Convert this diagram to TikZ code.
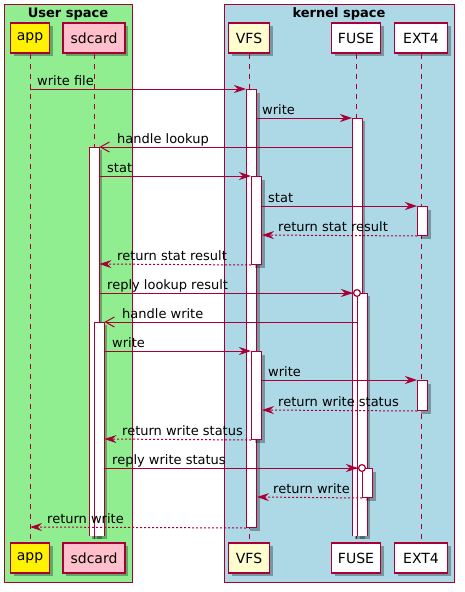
\documentclass[tikz,border=0pt]{standalone}
\usepackage{fontspec}
\setmainfont{DejaVu Sans}
\usetikzlibrary{arrows.meta,shadows}
\definecolor{pu}{HTML}{A80036}
\definecolor{grp1}{HTML}{90EE90}
\definecolor{grp2}{HTML}{ADD8E6}
\definecolor{pink1}{HTML}{FFC0CB}
\definecolor{cream}{HTML}{FEFECE}
\tikzset{
  grpbox/.style={draw=pu, line width=1pt},
  grptitle/.style={font=\fontsize{13}{15}\selectfont\bfseries, anchor=base},
  part/.style={draw=pu, line width=1.5pt, minimum height=30pt, inner sep=0pt,
    font=\fontsize{14}{16}\selectfont,
    drop shadow={shadow xshift=3pt, shadow yshift=-3pt, fill=black, opacity=0.3}},
  life/.style={draw=pu, line width=1pt, dash pattern=on 5pt off 5pt},
  act/.style={fill=white, draw=pu, line width=1pt, minimum width=10pt, inner sep=0pt, anchor=north west,
    drop shadow={shadow xshift=3pt, shadow yshift=-3pt, fill=black, opacity=0.3}},
  actopen/.style={fill=white, draw=none, minimum width=10pt, inner sep=0pt, anchor=north west,
    drop shadow={shadow xshift=3pt, shadow yshift=-3pt, fill=black, opacity=0.3}},
  msg/.style={draw=pu, line width=1pt, -{Stealth[length=12pt,width=8pt,inset=4pt]}},
  ret/.style={msg, dash pattern=on 2pt off 2pt},
  opn/.style={draw=pu, line width=1pt, -{Straight Barb[length=9pt,width=10pt]}},
  circ/.style={draw=pu, line width=1pt, shorten >=-4pt,
    -{Stealth[length=12pt,width=8pt,inset=4pt] Circle[open,fill=white,length=8pt,width=8pt,line width=1.2pt]}},
  lbl/.style={font=\fontsize{13}{15}\selectfont, anchor=base west, inner sep=0pt},
}
\begin{document}
\begin{tikzpicture}[x=1pt,y=-1pt]
\useasboundingbox (0,0) rectangle (464,592);
% group boxes
\filldraw[grpbox, fill=grp1] (4,4) rectangle (132,582);
\filldraw[grpbox, fill=grp2] (224,4) rectangle (454,582);
\node[grptitle] (gUser) at (68,17) {User space};
\node[grptitle] (gKern) at (339,17) {kernel space};
% participants
\node[part, fill=yellow, minimum width=39pt] (appT) at (30,38) {app};
\node[part, fill=pink1, minimum width=62pt] (sdT) at (94,38) {sdcard};
\node[part, fill=cream, minimum width=41pt] (vfsT) at (249,38) {VFS};
\node[part, fill=white, minimum width=49pt] (fuseT) at (356,38) {FUSE};
\node[part, fill=white, minimum width=53pt] (extT) at (421,38) {EXT4};
\node[part, fill=yellow, minimum width=39pt] (appB) at (30,558) {app};
\node[part, fill=pink1, minimum width=62pt] (sdB) at (94,558) {sdcard};
\node[part, fill=cream, minimum width=41pt] (vfsB) at (249,558) {VFS};
\node[part, fill=white, minimum width=49pt] (fuseB) at (356,558) {FUSE};
\node[part, fill=white, minimum width=53pt] (extB) at (421,558) {EXT4};
% lifelines
\draw[life] (appT.south) -- (appB.north);
\draw[life] (sdT.south) -- (sdB.north);
\draw[life] (vfsT.south) -- (vfsB.north);
\draw[life] (fuseT.south) -- (fuseB.north);
\draw[life] (extT.south) -- (extB.north);
% activations
\node[act, minimum height=438pt] (vfs1) at (246,89) {};
\node[actopen, minimum height=418pt] (fuse1) at (352,118) {};
\draw[pu, line width=1pt] (fuse1.south west) -- (fuse1.north west) -- (fuse1.north east) -- (fuse1.south east);
\node[actopen, minimum height=389pt] (sd1) at (89,147) {};
\draw[pu, line width=1pt] (sd1.south west) -- (sd1.north west) -- (sd1.north east) -- (sd1.south east);
\node[act, minimum height=88pt] (vfs2) at (251,176) {};
\node[act, minimum height=29pt] (ext1) at (417,206) {};
\node[actopen, minimum height=243pt] (fuse2) at (357,293) {};
\draw[pu, line width=1pt] (fuse2.south west) -- (fuse2.north west) -- (fuse2.north east) -- (fuse2.south east);
\node[actopen, minimum height=214pt] (sd2) at (94,322) {};
\draw[pu, line width=1pt] (sd2.south west) -- (sd2.north west) -- (sd2.north east) -- (sd2.south east);
\node[act, minimum height=88pt] (vfs3) at (251,351) {};
\node[act, minimum height=30pt] (ext2) at (417,380) {};
\node[act, minimum height=29pt] (fuse3) at (362,468) {};
% rows
\coordinate (r1) at (0,89);
\coordinate (r2) at (0,118);
\coordinate (r3) at (0,147);
\coordinate (r4) at (0,176);
\coordinate (r5) at (0,206);
\coordinate (r6) at (0,235);
\coordinate (r7) at (0,264);
\coordinate (r8) at (0,293);
\coordinate (r9) at (0,322);
\coordinate (r10) at (0,351);
\coordinate (r11) at (0,380);
\coordinate (r12) at (0,410);
\coordinate (r13) at (0,439);
\coordinate (r14) at (0,468);
\coordinate (r15) at (0,497);
\coordinate (r16) at (0,527);
% messages
\draw[msg] (appT.south |- r1) -- (vfs1.north west);
\node[lbl] (m1) at (37,85) {write file};
\draw[msg] (vfs1.east |- r2) -- (fuse1.north west);
\node[lbl] (m2) at (262,114) {write};
\draw[opn] (fuse1.west |- r3) -- (sd1.north east);
\node[lbl] (m3) at (117,143) {handle lookup};
\draw[msg] (sd1.east |- r4) -- (vfs2.north west);
\node[lbl] (m4) at (107,172) {stat};
\draw[msg] (vfs2.east |- r5) -- (ext1.north west);
\node[lbl] (m5) at (268,202) {stat};
\draw[ret] (ext1.south west) -- (vfs2.east |- r6);
\node[lbl] (m6) at (278,231) {return stat result};
\draw[ret] (vfs2.south west) -- (sd1.east |- r7);
\node[lbl] (m7) at (117,260) {return stat result};
\draw[circ] (sd1.east |- r8) -- (fuse2.north west);
\node[lbl] (m8) at (107,289) {reply lookup result};
\draw[opn] (fuse2.west |- r9) -- (sd2.north east);
\node[lbl] (m9) at (122,318) {handle write};
\draw[msg] (sd2.east |- r10) -- (vfs3.north west);
\node[lbl] (m10) at (112,347) {write};
\draw[msg] (vfs3.east |- r11) -- (ext2.north west);
\node[lbl] (m11) at (268,376) {write};
\draw[ret] (ext2.south west) -- (vfs3.east |- r12);
\node[lbl] (m12) at (278,406) {return write status};
\draw[ret] (vfs3.south west) -- (sd2.east |- r13);
\node[lbl] (m13) at (122,435) {return write status};
\draw[circ] (sd2.east |- r14) -- (fuse3.north west);
\node[lbl] (m14) at (112,464) {reply write status};
\draw[ret] (fuse3.south west) -- (vfs1.east |- r15);
\node[lbl] (m15) at (273,493) {return write};
\draw[ret] (vfs1.south west) -- (appT.south |- r16);
\node[lbl] (m16) at (47,523) {return write};
\end{tikzpicture}
\end{document}
